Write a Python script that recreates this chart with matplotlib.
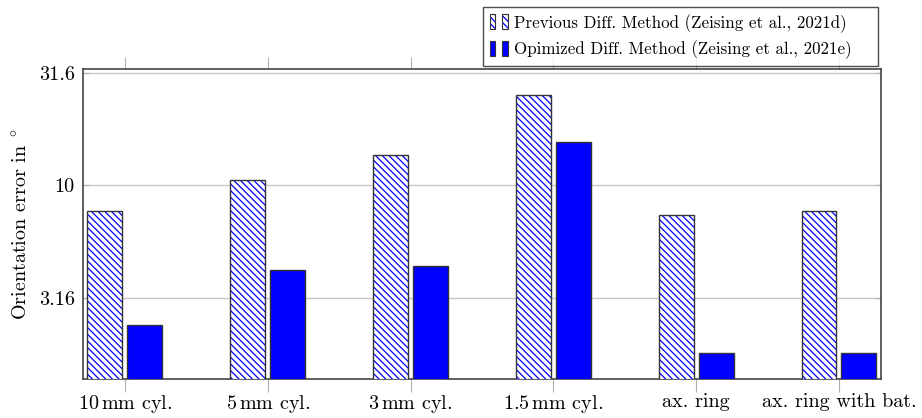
"""
Orientation error per sensor geometry, previous vs optimized diff. method.
Log-scale y axis, hatched + solid grouped bars.
Output: out.png
"""

import numpy as np
import matplotlib
matplotlib.use("Agg")
import matplotlib.pyplot as plt
from matplotlib.patches import Patch
from matplotlib.legend_handler import HandlerTuple
from matplotlib.ticker import FixedLocator, FixedFormatter, NullLocator

plt.rcParams["font.family"] = ["cmr10", "DejaVu Serif"]
plt.rcParams["mathtext.fontset"] = "cm"
plt.rcParams["axes.formatter.use_mathtext"] = True
plt.rcParams["hatch.linewidth"] = 0.9

categories = ["10$\\,$mm cyl.", "5$\\,$mm cyl.", "3$\\,$mm cyl.",
              "1.5$\\,$mm cyl.", "ax. ring", "ax. ring with bat."]
prev_err = [7.72, 10.6, 13.6, 25.1, 7.41, 7.72]
opt_err = [2.41, 4.20, 4.40, 15.5, 1.80, 1.80]
ytick_vals = [3.16, 10, 31.6]
ytick_labels = ["3.16", "10", "31.6"]
label_prev = "Previous Diff. Method (Zeising et al., 2021d)"
label_opt = "Opimized Diff. Method (Zeising et al., 2021e)"

AZUL = "#0000ff"
BORDA = "#333333"
HACH = "\\" * 5


class Sobreposto(tuple):
    """tupla cujos patches sao desenhados um em cima do outro na legenda"""
    pass


def patch_hachurado():
    return Sobreposto((
        Patch(facecolor="white", edgecolor=AZUL, hatch=HACH, linewidth=0),
        Patch(fill=False, edgecolor=BORDA, linewidth=0.8),
    ))


def main():
    fig = plt.figure(figsize=(9.22, 4.18), dpi=100)
    ax = fig.add_axes([0.090, 0.0933, 0.8655, 0.7417])

    x = np.arange(len(categories))
    w = 0.245
    off = 0.14

    # barras hachuradas: hachura azul sem borda, depois contorno escuro por cima
    ax.bar(x - off, prev_err, w, color="white", edgecolor=AZUL,
           hatch=HACH, linewidth=0, zorder=3)
    ax.bar(x - off, prev_err, w, fill=False, edgecolor=BORDA,
           linewidth=1.0, zorder=4)
    ax.bar(x + off, opt_err, w, color=AZUL, edgecolor=BORDA,
           linewidth=1.0, zorder=3)

    ax.set_yscale("log")
    ax.set_ylim(1.385, 32.8)
    ax.set_xlim(-0.294, len(categories) - 1 + 0.294)

    ax.yaxis.set_major_locator(FixedLocator(ytick_vals))
    ax.yaxis.set_major_formatter(FixedFormatter(ytick_labels))
    ax.yaxis.set_minor_locator(NullLocator())
    ax.set_xticks(x)
    ax.set_xticklabels(categories)

    ax.grid(axis="y", color="#c8c8c8", linewidth=1.0, zorder=0)
    ax.tick_params(axis="x", which="major", direction="out", length=9,
                   color="#b0b0b0", top=True, labelsize=14.5, pad=1)
    ax.tick_params(axis="y", which="major", direction="in", length=4,
                   color="#b0b0b0", right=True, labelsize=14.5, pad=6)
    for s in ax.spines.values():
        s.set_color("#444444")
        s.set_linewidth(1.2)

    ax.set_ylabel("Orientation error in$\\ ^\\circ$", fontsize=14.5, labelpad=6)

    # legenda com dois retangulos por entrada (estilo pgfplots)
    h_prev = (patch_hachurado(), patch_hachurado())
    h_opt = (
        Patch(facecolor=AZUL, edgecolor=BORDA, linewidth=0.8),
        Patch(facecolor=AZUL, edgecolor=BORDA, linewidth=0.8),
    )
    leg = ax.legend([h_prev, h_opt], [label_prev, label_opt],
                    handler_map={Sobreposto: HandlerTuple(ndivide=1, pad=0),
                                 tuple: HandlerTuple(ndivide=None, pad=0.4)},
                    loc="lower left", bbox_to_anchor=(0.501, 1.0097, 0.495, 0.18),
                    mode="expand",
                    fontsize=12.2, handlelength=1.05, handleheight=1.0,
                    handletextpad=0.35, borderpad=0.42, labelspacing=0.45,
                    frameon=True, fancybox=False, borderaxespad=0)
    leg.get_frame().set_edgecolor("#222222")
    leg.get_frame().set_linewidth(1.0)

    fig.savefig("out.png", dpi=100)
    plt.close(fig)


if __name__ == "__main__":
    main()
